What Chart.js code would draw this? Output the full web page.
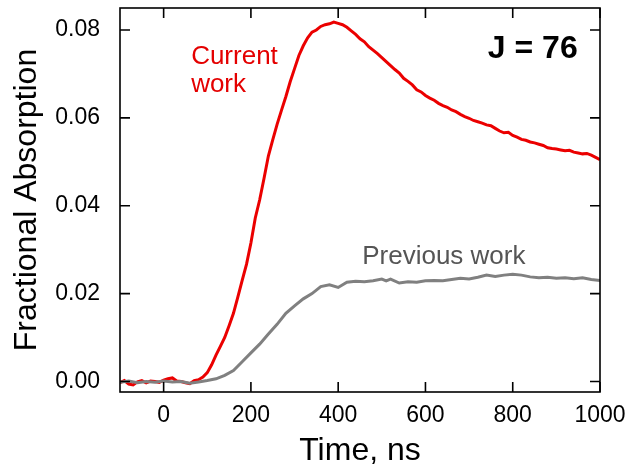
<!DOCTYPE html>
<html>
<head>
<meta charset="utf-8">
<script src="https://cdn.jsdelivr.net/npm/chart.js@4.4.1/dist/chart.umd.min.js"></script>
<style>
  html, body { margin: 0; padding: 0; background: #fff; }
  #wrap { width: 632px; height: 472px; }
</style>
</head>
<body>
<div id="wrap"><canvas id="absChart" width="632" height="472"></canvas></div>
<script>
// Current work trace (red), every 10 ns
const timeCurrent = [
  -100, -90, -80, -70, -60, -50, -40, -30, -20, -10,
  0, 10, 20, 30, 40, 50, 60, 70, 80, 90,
  100, 110, 120, 130, 140, 150, 160, 170, 180, 190,
  200, 210, 220, 230, 240, 250, 260, 270, 280, 290,
  300, 310, 320, 330, 340, 350, 360, 370, 380, 390,
  400, 410, 420, 430, 440, 450, 460, 470, 480, 490,
  500, 510, 520, 530, 540, 550, 560, 570, 580, 590,
  600, 610, 620, 630, 640, 650, 660, 670, 680, 690,
  700, 710, 720, 730, 740, 750, 760, 770, 780, 790,
  800, 810, 820, 830, 840, 850, 860, 870, 880, 890,
  900, 910, 920, 930, 940, 950, 960, 970, 980, 990, 1000
];
const absCurrent = [
  -0.0003, 0.0002, -0.0006, -0.0008, -0.0001, 0.0002, -0.0003, 0.0001, 0.0000, -0.0002,
  0.0003, 0.0006, 0.0008, 0.0001, 0.0000, -0.0003, -0.0005, 0.0002, 0.0004, 0.0010,
  0.0020, 0.0038, 0.0060, 0.0080, 0.0100, 0.0127, 0.0155, 0.0192, 0.0230, 0.0267,
  0.0315, 0.0372, 0.0413, 0.0462, 0.0513, 0.0550, 0.0585, 0.0617, 0.0648, 0.0682,
  0.0712, 0.0742, 0.0764, 0.0782, 0.0795, 0.0800, 0.0808, 0.0812, 0.0814, 0.0818,
  0.0815, 0.0812, 0.0806, 0.0798, 0.0790, 0.0780, 0.0773, 0.0762, 0.0754, 0.0746,
  0.0737, 0.0728, 0.0719, 0.0710, 0.0702, 0.0690, 0.0683, 0.0675, 0.0664, 0.0659,
  0.0651, 0.0645, 0.0640, 0.0633, 0.0628, 0.0624, 0.0618, 0.0614, 0.0608, 0.0603,
  0.0599, 0.0594, 0.0591, 0.0588, 0.0584, 0.0582, 0.0576, 0.0570, 0.0566, 0.0567,
  0.0560, 0.0556, 0.0551, 0.0549, 0.0545, 0.0543, 0.0540, 0.0537, 0.0532, 0.0530,
  0.0529, 0.0527, 0.0525, 0.0526, 0.0522, 0.0520, 0.0518, 0.0519, 0.0515, 0.0510, 0.0505
];

// Previous work trace (grey)
const timePrevious = [
  -100, -80, -60, -40, -20, 0, 20, 40, 60, 80,
  100, 120, 140, 160, 180, 200, 220, 240, 260, 280,
  300, 320, 340, 360, 380, 400, 420, 440, 460, 480,
  500, 510, 520, 540, 560, 580, 600, 620, 640, 660,
  680, 700, 720, 740, 760, 780, 800, 820, 840, 860,
  880, 900, 920, 940, 960, 980, 1000
];
const absPrevious = [
  -0.0002, 0.0001, -0.0003, 0.0000, -0.0002, 0.0001, -0.0001, 0.0000, -0.0004, -0.0001,
  0.0002, 0.0006, 0.0014, 0.0025, 0.0045, 0.0065, 0.0085, 0.0108, 0.0130, 0.0155,
  0.0172, 0.0188, 0.0200, 0.0216, 0.0220, 0.0214, 0.0226, 0.0228, 0.0227, 0.0229,
  0.0233, 0.0229, 0.0233, 0.0224, 0.0227, 0.0226, 0.0229, 0.0230, 0.0229, 0.0232,
  0.0235, 0.0233, 0.0237, 0.0242, 0.0239, 0.0242, 0.0244, 0.0242, 0.0238, 0.0236,
  0.0237, 0.0235, 0.0236, 0.0234, 0.0236, 0.0232, 0.0230
];

const xTicks = [0, 200, 400, 600, 800, 1000];
const yTicks = [0, 0.02, 0.04, 0.06, 0.08];

const FONT = "'Liberation Sans', Arial, sans-serif";

// frame, inward tick marks on all four sides, and the text labels
const framePlugin = {
  id: "frame",
  afterDraw(chart) {
    const { ctx, chartArea: a, scales: { x, y } } = chart;
    ctx.save();
    ctx.strokeStyle = "#000";
    ctx.lineWidth = 1.6;
    ctx.strokeRect(a.left, a.top, a.right - a.left, a.bottom - a.top);
    ctx.beginPath();
    xTicks.forEach(v => {
      const px = x.getPixelForValue(v);
      ctx.moveTo(px, a.bottom); ctx.lineTo(px, a.bottom - 10);
      ctx.moveTo(px, a.top); ctx.lineTo(px, a.top + 10);
    });
    yTicks.forEach(v => {
      const py = y.getPixelForValue(v);
      ctx.moveTo(a.left, py); ctx.lineTo(a.left + 10, py);
      ctx.moveTo(a.right, py); ctx.lineTo(a.right - 10, py);
    });
    ctx.stroke();

    ctx.textBaseline = "alphabetic";
    ctx.textAlign = "left";
    ctx.font = "26px " + FONT;
    ctx.fillStyle = "rgb(228, 0, 0)";
    ctx.fillText("Current", x.getPixelForValue(63), y.getPixelForValue(0.0723));
    ctx.fillText("work", x.getPixelForValue(63), y.getPixelForValue(0.0658));
    ctx.fillStyle = "rgb(85, 85, 85)";
    ctx.fillText("Previous work", x.getPixelForValue(455), y.getPixelForValue(0.0268));
    ctx.fillStyle = "#000";
    ctx.font = "bold 32px " + FONT;
    ctx.fillText("J = 76", x.getPixelForValue(743), y.getPixelForValue(0.0737));
    ctx.restore();
  }
};

const ctx = document.getElementById("absChart");

new Chart(ctx, {
  type: "line",
  data: {
    datasets: [
      {
        label: "Previous work",
        data: timePrevious.map((t, i) => ({ x: t, y: absPrevious[i] })),
        borderColor: "rgb(128, 128, 128)",
        borderWidth: 3,
        pointRadius: 0,
        tension: 0,
        fill: false
      },
      {
        label: "Current work",
        data: timeCurrent.map((t, i) => ({ x: t, y: absCurrent[i] })),
        borderColor: "rgb(235, 0, 0)",
        borderWidth: 3,
        pointRadius: 0,
        tension: 0,
        fill: false
      }
    ]
  },
  options: {
    responsive: false,
    animation: false,
    devicePixelRatio: 1,
    layout: { padding: { left: 0, right: 32, top: 8, bottom: 0 } },
    plugins: {
      legend: { display: false },
      tooltip: { enabled: false }
    },
    scales: {
      x: {
        type: "linear",
        min: -100,
        max: 1000,
        afterBuildTicks: s => { s.ticks = xTicks.map(v => ({ value: v })); },
        afterFit: s => { s.height = 80; s.paddingLeft = 0; s.paddingRight = 0; },
        grid: { display: false, drawTicks: false },
        border: { display: false },
        ticks: {
          color: "#000",
          font: { family: FONT, size: 23 },
          padding: 10,
          maxRotation: 0,
          callback: v => String(v)
        },
        title: {
          display: true,
          text: "Time, ns",
          color: "#000",
          font: { family: FONT, size: 32 },
          padding: { top: 0, bottom: 2 }
        }
      },
      y: {
        type: "linear",
        min: -0.0024,
        max: 0.085,
        afterBuildTicks: s => { s.ticks = yTicks.map(v => ({ value: v })); },
        afterFit: s => { s.width = 120; s.paddingTop = 0; s.paddingBottom = 0; },
        grid: { display: false, drawTicks: false },
        border: { display: false },
        ticks: {
          color: "#000",
          font: { family: FONT, size: 23 },
          padding: 20,
          callback: v => v.toFixed(2)
        },
        title: {
          display: true,
          text: "Fractional Absorption",
          color: "#000",
          font: { family: FONT, size: 32 },
          padding: { top: 8, bottom: 0 }
        }
      }
    }
  },
  plugins: [framePlugin]
});
</script>
</body>
</html>
